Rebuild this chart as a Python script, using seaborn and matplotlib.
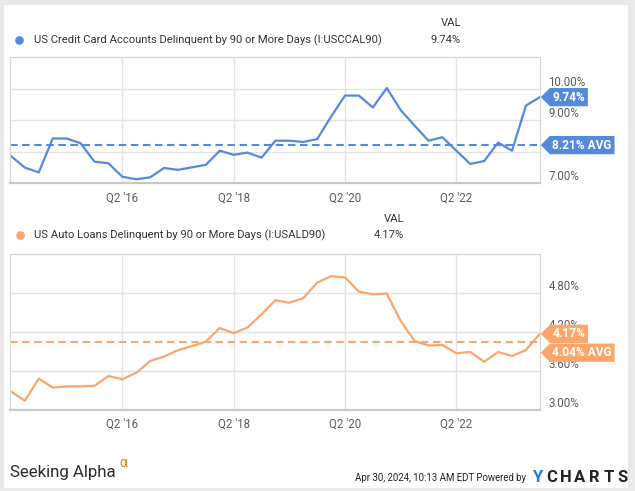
import matplotlib
matplotlib.use("Agg")
import numpy as np
import pandas as pd
import matplotlib.pyplot as plt
import seaborn as sns
from matplotlib.path import Path
from matplotlib.patches import Rectangle
from matplotlib.lines import Line2D

# ---------------- data ----------------
quarters = [str(p) for p in pd.period_range("2014Q2", "2023Q4", freq="Q")]
credit_card = [7.86, 7.49, 7.34, 8.42, 8.42, 8.27, 7.68, 7.63, 7.20, 7.12,
               7.18, 7.48, 7.42, 7.50, 7.58, 8.03, 7.90, 7.97, 7.81, 8.35,
               8.35, 8.31, 8.40, 9.12, 9.79, 9.79, 9.41, 10.03, 9.33, 8.83,
               8.35, 8.46, 8.03, 7.61, 7.70, 8.29, 8.03, 9.47, 9.74]
auto_loans = [3.28, 3.14, 3.48, 3.34, 3.36, 3.36, 3.37, 3.52, 3.47, 3.57,
              3.75, 3.82, 3.92, 3.98, 4.05, 4.26, 4.18, 4.27, 4.47, 4.69,
              4.65, 4.72, 4.96, 5.06, 5.04, 4.82, 4.78, 4.79, 4.37, 4.06,
              3.99, 4.00, 3.87, 3.89, 3.74, 3.89, 3.83, 3.92, 4.17]
cc_avg = 8.21
auto_avg = 4.04
cc_last = 9.74
auto_last = 4.17
x_tick_quarters = ["2016Q2", "2018Q2", "2020Q2", "2022Q2"]
x_tick_labels = ["Q2 '16", "Q2 '18", "Q2 '20", "Q2 '22"]
cc_yticks = [7.0, 8.0, 9.0, 10.0]
cc_ytick_labels = ["7.00%", "", "9.00%", "10.00%"]   # 8.00% is hidden behind the AVG tag
auto_yticks = [3.0, 3.6, 4.2, 4.8]
auto_ytick_labels = ["3.00%", "3.60%", "4.20%", "4.80%"]
cc_name = "US Credit Card Accounts Delinquent by 90 or More Days (I:USCCAL90)"
auto_name = "US Auto Loans Delinquent by 90 or More Days (I:USALD90)"

df = pd.DataFrame({"quarter": quarters, "idx": np.arange(len(quarters)),
                   "cc": credit_card, "auto": auto_loans})
tick_pos = [quarters.index(q) for q in x_tick_quarters]

# ---------------- style ----------------
sns.set_theme(style="white")
plt.rcParams["font.family"] = ["Roboto", "DejaVu Sans"]

BLUE = "#5589da"
ORANGE = "#fda66b"
GRID = "#e3e3e3"
FRAME = "#d6d6d6"
TICK = "#5a5a5a"

W, H = 635, 491
fig = plt.figure(figsize=(W / 100, H / 100), dpi=100)
fig.patch.set_facecolor("#e9e9e9")
fig.add_artist(Rectangle((4 / W, 1 - 488 / H), (628 - 4) / W, (488 - 5) / H,
                         transform=fig.transFigure, facecolor="white",
                         edgecolor="none", zorder=-10))


def fx(px):
    return px / W


def fy(py):
    return 1 - py / H


def tag(x0, y0, width, height, mutation_size):
    pad = 0.22 * mutation_size
    x0 -= pad
    y0 -= pad
    w = width + 2 * pad
    h = height + 2 * pad
    tip = h * 0.5
    verts = [(x0 - tip, y0 + h / 2), (x0, y0), (x0 + w, y0), (x0 + w, y0 + h),
             (x0, y0 + h), (x0 - tip, y0 + h / 2)]
    codes = [Path.MOVETO] + [Path.LINETO] * 4 + [Path.CLOSEPOLY]
    return Path(verts, codes)


def style_axis(ax, ylim, yticks, ylabels):
    ax.set_xlim(-0.07, len(quarters) - 1 + 0.01)
    ax.set_ylim(*ylim)
    ax.set_xticks(tick_pos)
    ax.set_xticklabels(x_tick_labels)
    ax.set_yticks(yticks)
    ax.set_yticklabels(ylabels)
    ax.yaxis.tick_right()
    for lab in ax.get_yticklabels():
        lab.set_va("bottom")
    ax.tick_params(axis="x", length=0, pad=6, labelsize=8.3, labelcolor=TICK)
    ax.tick_params(axis="y", length=0, pad=6, labelsize=8.3, labelcolor=TICK)
    ax.grid(True, color=GRID, lw=1.0)
    ax.set_axisbelow(True)
    for s in ["top", "left", "right"]:
        ax.spines[s].set_color(FRAME)
        ax.spines[s].set_linewidth(0.9)
        ax.spines[s].set_visible(True)
    ax.spines["bottom"].set_color("#c9c9c9")
    ax.spines["bottom"].set_linewidth(1.6)
    ax.spines["bottom"].set_visible(True)
    ax.set_xlabel("")
    ax.set_ylabel("")
    ax.set_facecolor("white")


def label(ax, text, yval, color, dy=0):
    ax.annotate(text, xy=(1, yval), xycoords=ax.get_yaxis_transform(),
                xytext=(9.0, dy), textcoords="offset points",
                ha="left", va="center", fontsize=8.6, fontweight="bold",
                color="white", annotation_clip=False, zorder=10,
                bbox=dict(boxstyle=tag, fc=color, ec="none"))


# ---------------- top panel ----------------
ax1 = fig.add_axes([fx(10), fy(183), fx(530), 126 / H])
sns.lineplot(data=df, x="idx", y="cc", ax=ax1, color=BLUE, lw=1.6)
ax1.axhline(cc_avg, color=BLUE, lw=1.5, ls=(0, (3.6, 2.2)))
style_axis(ax1, (7.0, 7.0 + 126 / 31.33), cc_yticks, cc_ytick_labels)
label(ax1, f"{cc_last:.2f}%", cc_last, BLUE)
label(ax1, f"{cc_avg:.2f}% AVG", cc_avg, BLUE)

# ---------------- bottom panel ----------------
ax2 = fig.add_axes([fx(10), fy(409.7), fx(530), 155.4 / H])
sns.lineplot(data=df, x="idx", y="auto", ax=ax2, color=ORANGE, lw=1.6)
ax2.axhline(auto_avg, color=ORANGE, lw=1.5, ls=(0, (3.6, 2.2)))
style_axis(ax2, (3.0, 3.0 + 155.4 / 64.83), auto_yticks, auto_ytick_labels)
label(ax2, f"{auto_last:.2f}%", auto_last, ORANGE)
label(ax2, f"{auto_avg:.2f}% AVG", auto_avg, ORANGE, dy=-7.5)

# ---------------- legends ----------------
for (dot_x, yc, yv, name, val, vx, col) in [
        (19, 40, 23.3, cc_name, cc_last, 461, BLUE),
        (20, 235, 219.3, auto_name, auto_last, 404, ORANGE)]:
    fig.add_artist(Line2D([fx(dot_x)], [fy(yc)], marker="o", ms=5.2, color=col,
                          transform=fig.transFigure, lw=0))
    fig.text(fx(34), fy(yc), name, ha="left", va="center", fontsize=8.1,
             color="#333333")
    fig.text(fx(vx), fy(yv), "VAL", ha="right", va="center", fontsize=8.1,
             color="#333333")
    fig.text(fx(vx), fy(yc), f"{val:.2f}%", ha="right", va="center",
             fontsize=8.1, color="#333333")

# ---------------- footer ----------------
fig.text(fx(10), fy(473), "Seeking Alpha", ha="left", va="center",
         fontsize=12.2, color="#2b2b2b")
fig.text(fx(119.5), fy(463), "\u03b1", ha="left", va="center", fontsize=10,
         color="#f47a20")
fig.text(fx(526), fy(478), "Apr 30, 2024, 10:13 AM EDT Powered by",
         ha="right", va="center", fontsize=6.9, color="#222222")
for i, ch in enumerate("YCHARTS"):
    fig.text(fx(537 + i * 14.3), fy(477), ch, ha="center", va="center",
             fontsize=12, fontweight="bold",
             color="#1f7ae0" if i == 0 else "#222222")

fig.savefig("out.png", dpi=100, facecolor=fig.get_facecolor())
